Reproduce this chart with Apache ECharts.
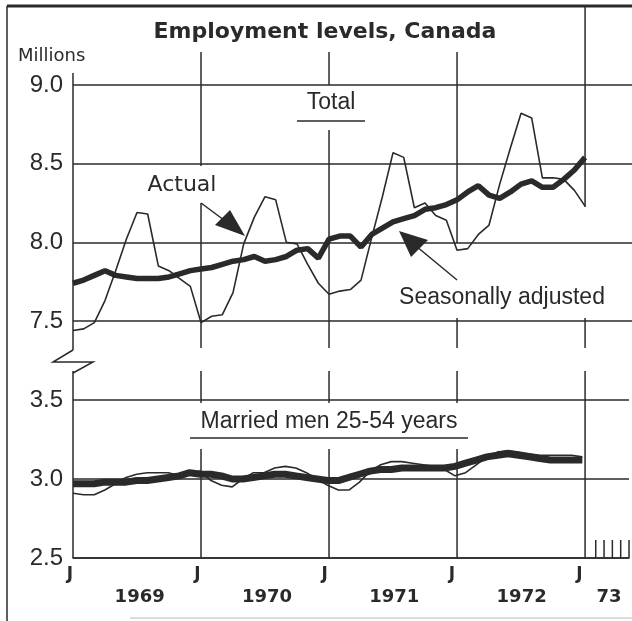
<!DOCTYPE html>
<html><head><meta charset="utf-8">
<script src="https://cdn.jsdelivr.net/npm/echarts@6/dist/echarts.min.js"></script>
<style>html,body{margin:0;padding:0;background:#fff}#c{width:632px;height:621px}</style>
</head><body><div id="c"></div>
<script>
// Monthly values, January 1969 (index 0) to January 1973 (index 48), millions
const totalActual = [7.44,7.45,7.49,7.63,7.82,8.02,8.19,8.18,7.85,7.82,7.77,7.72,
  7.49,7.53,7.54,7.68,7.99,8.16,8.29,8.27,8.00,7.99,7.86,7.74,
  7.67,7.69,7.70,7.76,8.03,8.29,8.57,8.54,8.22,8.25,8.17,8.14,
  7.95,7.96,8.05,8.11,8.37,8.60,8.82,8.79,8.41,8.41,8.40,8.33,8.23];
const totalSA = [7.74,7.76,7.79,7.82,7.79,7.78,7.77,7.77,7.77,7.78,7.80,7.82,
  7.83,7.84,7.86,7.88,7.89,7.91,7.88,7.89,7.91,7.95,7.96,7.90,
  8.02,8.04,8.04,7.97,8.05,8.09,8.13,8.15,8.17,8.21,8.22,8.24,
  8.27,8.32,8.36,8.30,8.28,8.32,8.37,8.39,8.35,8.35,8.40,8.46,8.54];
const marriedActual = [2.91,2.90,2.90,2.93,2.97,3.01,3.03,3.04,3.04,3.04,3.02,3.04,
  3.05,2.99,2.96,2.95,3.00,3.04,3.04,3.07,3.08,3.07,3.04,3.00,
  2.96,2.93,2.93,2.98,3.05,3.09,3.11,3.11,3.10,3.09,3.08,3.06,
  3.02,3.04,3.09,3.14,3.17,3.18,3.17,3.16,3.15,3.15,3.15,3.15,3.14];
const marriedSA = [2.97,2.97,2.97,2.98,2.98,2.98,2.99,2.99,3.00,3.01,3.02,3.04,
  3.03,3.03,3.02,3.00,3.00,3.01,3.02,3.03,3.03,3.02,3.01,3.00,
  2.99,2.99,3.01,3.03,3.05,3.06,3.06,3.07,3.07,3.07,3.07,3.07,
  3.08,3.10,3.12,3.14,3.15,3.16,3.15,3.14,3.13,3.12,3.12,3.12,3.12];
const yearLabels = ['1969','1970','1971','1972'];
const yearEndLabel = '73';
const monthLabel = 'J';
const topRange = [7.5, 9.0];
const bottomRange = [2.5, 3.5];
const tickStep = 0.5;
const titleText = 'Employment levels, Canada';
const unitText = 'Millions';
const panelLabels = ['Total', 'Married men 25-54 years'];
const seriesLabels = ['Actual', 'Seasonally adjusted'];

const INK = '#2a2a2a';
const FONT = "'Liberation Sans', Arial, sans-serif";
const WIDE = "'DejaVu Sans', 'Liberation Sans', sans-serif";
const XMAX = 52.4;
const chart = echarts.init(document.getElementById('c'), null, {renderer: 'canvas'});
const pairs = arr => arr.map((v, i) => [i, v]);

const yAxisBase = (gi, range) => ({
  gridIndex: gi, type: 'value', min: range[0], max: range[1], interval: tickStep,
  axisLine: {show: false}, axisTick: {show: false},
  axisLabel: {formatter: v => v.toFixed(1), fontSize: 24, color: INK, margin: 10, fontFamily: FONT},
  splitLine: {show: true, lineStyle: {color: INK, width: 1.5}}
});

chart.setOption({
  animation: false,
  backgroundColor: '#fff',
  grid: [
    {left: 73, right: 0, top: 85, height: 236},
    {left: 73, right: 0, top: 400, height: 158}
  ],
  xAxis: [
    {gridIndex: 0, type: 'value', min: 0, max: XMAX, axisLine: {show: false}, axisTick: {show: false}, axisLabel: {show: false}, splitLine: {show: false}},
    {gridIndex: 1, position: 'bottom', type: 'value', min: 0, max: XMAX, interval: 12,
      axisLine: {show: true, lineStyle: {color: INK, width: 1.5}}, axisTick: {show: false}, splitLine: {show: false},
      axisLabel: {formatter: v => (v % 12 === 0 && v <= 48) ? monthLabel : '', fontSize: 17, fontWeight: 'bold', color: INK, margin: 8, fontFamily: WIDE, padding: [0, 6, 0, 0]}},
    {gridIndex: 1, position: 'bottom', type: 'value', min: 0, max: XMAX, interval: 6,
      axisLine: {show: false}, axisTick: {show: false}, splitLine: {show: false},
      axisLabel: {formatter: v => (v % 12 === 6) ? (yearLabels[(v - 6) / 12] || '') : '', fontSize: 18, fontWeight: 'bold', color: INK, margin: 30, fontFamily: WIDE, padding: [0, 0, 0, 6]}}
  ],
  yAxis: [yAxisBase(0, topRange), yAxisBase(1, bottomRange)],
  series: [
    {type: 'line', xAxisIndex: 0, yAxisIndex: 0, data: pairs(totalSA), symbol: 'none', clip: false, lineStyle: {color: INK, width: 5.5}, z: 3},
    {type: 'line', xAxisIndex: 0, yAxisIndex: 0, data: pairs(totalActual), symbol: 'none', clip: false, lineStyle: {color: INK, width: 1.6}, z: 4},
    {type: 'line', xAxisIndex: 1, yAxisIndex: 1, data: pairs(marriedSA), symbol: 'none', clip: false, lineStyle: {color: INK, width: 7}, z: 3},
    {type: 'line', xAxisIndex: 1, yAxisIndex: 1, data: pairs(marriedActual), symbol: 'none', clip: false, lineStyle: {color: INK, width: 1.6}, z: 4}
  ]
});

const X = m => chart.convertToPixel({xAxisIndex: 0}, m);
const x0 = X(0);
const seg = (x1, y1, x2, y2, w, c) => ({type: 'line', z: 1, silent: true, shape: {x1, y1, x2, y2}, style: {stroke: c || INK, lineWidth: w || 1.5}});
const txt = (x, y, t, size, opts) => ({type: 'text', z: 10, silent: true, x, y,
  style: Object.assign({text: t, fontSize: size, fontFamily: FONT, fill: INK, align: 'center', verticalAlign: 'middle'}, opts || {})});

const g = [];
// frame
g.push(seg(7, 6, 632, 6, 3));
g.push(seg(7, 6, 7, 621, 1.5));
g.push(seg(130, 618, 632, 618, 1, '#bbb'));
// left axis with break
g.push(seg(x0, 73, x0, 350));
g.push(seg(x0, 371, x0, 558));
g.push({type: 'polyline', z: 1, silent: true, shape: {points: [[x0, 350], [x0 - 20, 362], [x0 + 20, 362], [x0, 373]]}, style: {stroke: INK, lineWidth: 1.5, fill: null}});
// year grid lines (with gaps where labels sit)
const yearSegs = {
  12: [[52, 166], [203, 348], [371, 403], [449, 558]],
  24: [[52, 85], [130, 348], [371, 403], [449, 558]],
  36: [[52, 243], [318, 348], [371, 403], [449, 558]],
  48: [[6, 207], [318, 348], [371, 558]]
};
Object.keys(yearSegs).forEach(k => {
  const xp = X(+k);
  yearSegs[k].forEach(s => g.push(seg(xp, s[0], xp, s[1])));
});
// small ticks after Jan 1973
[49, 49.78, 50.56, 51.34, 52.12].forEach(m => { const xp = X(m); g.push(seg(xp, 540, xp, 558)); });
// texts
g.push(txt(325, 32, titleText, 22, {fontWeight: 'bold', fontFamily: WIDE}));
g.push(txt(18, 56, unitText, 18, {align: 'left', fontFamily: WIDE}));
g.push(txt(331, 103, panelLabels[0], 23));
g.push(seg(297, 121, 365, 121));
g.push(txt(329, 422, panelLabels[1], 23));
g.push(seg(190, 438, 468, 438));
g.push(txt(182, 185, seriesLabels[0], 22, {fontFamily: WIDE}));
g.push(txt(502, 298, seriesLabels[1], 23));
g.push(txt(X(50.25), 597, yearEndLabel, 18, {fontWeight: 'bold', fontFamily: WIDE}));
// arrows
g.push(seg(X(12), 203, 232, 226, 1.5));
g.push({type: 'polygon', z: 5, silent: true, shape: {points: [[215, 225], [230, 210], [245, 236]]}, style: {fill: INK}});
g.push(seg(X(36), 280, 416, 246, 1.5));
g.push({type: 'polygon', z: 5, silent: true, shape: {points: [[399, 231], [411, 257], [428, 240]]}, style: {fill: INK}});

chart.setOption({graphic: {elements: g}});
</script></body></html>
